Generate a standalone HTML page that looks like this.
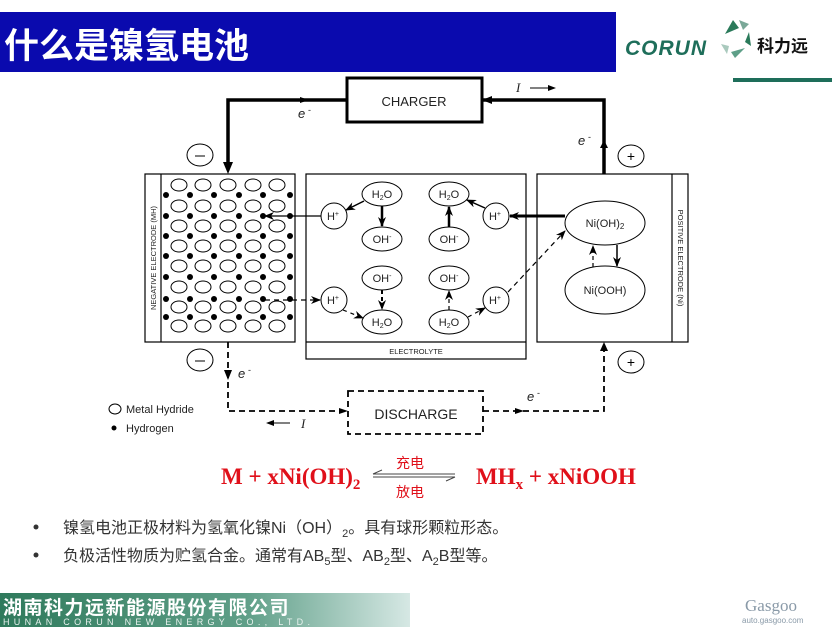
<!DOCTYPE html>
<html><head><meta charset="utf-8"><style>
html,body{margin:0;padding:0;background:#fff;}
body{width:832px;height:627px;overflow:hidden;position:relative;}
svg{position:absolute;left:0;top:0;}
</style></head><body>
<svg width="832" height="627" viewBox="0 0 832 627" xmlns="http://www.w3.org/2000/svg" font-family="Liberation Sans, Noto Sans CJK SC, sans-serif">
<defs>
<marker id="ah" markerWidth="10" markerHeight="8" refX="9" refY="4" orient="auto" markerUnits="userSpaceOnUse"><path d="M0,0 L10,4 L0,8 L3,4 Z" fill="#000"/></marker>
<linearGradient id="fg" x1="0" x2="1" y1="0" y2="0"><stop offset="0" stop-color="#2f7a5c"/><stop offset="0.6" stop-color="#5f9f88"/><stop offset="1" stop-color="#d6e8e4"/></linearGradient>
<g id="orow" fill="none" stroke="#000" stroke-width="1"><ellipse cx="179" cy="0" rx="8" ry="6"/><ellipse cx="203" cy="0" rx="8" ry="6"/><ellipse cx="228" cy="0" rx="8" ry="6"/><ellipse cx="253" cy="0" rx="8" ry="6"/><ellipse cx="277" cy="0" rx="8" ry="6"/></g>
<g id="drow" fill="#000"><circle cx="166" cy="0" r="3"/><circle cx="190" cy="0" r="3"/><circle cx="214" cy="0" r="3"/><circle cx="239" cy="0" r="3"/><circle cx="263" cy="0" r="3"/><circle cx="290" cy="0" r="3"/></g>
</defs>
<!-- header -->
<rect x="0" y="12" width="616" height="60" fill="#0a0aae"/>
<text x="4" y="58" fill="#fff" font-size="35" font-weight="bold" font-family="Liberation Sans, Noto Sans CJK SC, sans-serif">什么是镍氢电池</text>
<text x="625" y="55" fill="#1e6e5a" font-size="21" font-weight="bold" font-style="italic" letter-spacing="1">CORUN</text>
<g transform="translate(735,40)">
<polygon points="-10,-6 -2,-20 4,-12" fill="#2a7a5a"/>
<polygon points="4,-20 14,-16 8,-10" fill="#7aa898"/>
<polygon points="14,-8 16,6 10,2" fill="#2a7a5a"/>
<polygon points="10,8 0,18 -4,12" fill="#5e9f88"/>
<polygon points="-8,14 -14,4 -6,6" fill="#a9c9bd"/>
</g>
<text x="757" y="52" font-size="17" font-weight="bold" fill="#111">科力远</text>
<rect x="733" y="78" width="99" height="4" fill="#1e6e5a"/>

<!-- charger circuit -->
<rect x="347" y="78" width="135" height="44" fill="none" stroke="#000" stroke-width="3"/>
<text x="414" y="106" font-size="13" text-anchor="middle" fill="#222">CHARGER</text>
<polyline points="347,100 228,100 228,166" fill="none" stroke="#000" stroke-width="3.5"/>
<path d="M223,162 L228,174 L233,162 Z" fill="#000"/>
<polyline points="604,174 604,100 482,100" fill="none" stroke="#000" stroke-width="3.5"/>
<path d="M482,100 L492,96 L492,104 Z" fill="#000"/>
<path d="M309,100 L300,97 L300,103 Z" fill="#000"/>
<path d="M604,140 L600,148 L608,148 Z" fill="#000"/>
<text x="298" y="118" font-size="13" font-style="italic" fill="#222">e</text><text x="308" y="113" font-size="9" fill="#222">-</text>
<text x="578" y="145" font-size="13" font-style="italic" fill="#222">e</text><text x="588" y="140" font-size="9" fill="#222">-</text>
<text x="516" y="92" font-size="13" font-style="italic" font-family="Liberation Serif, serif" fill="#222">I</text>
<line x1="530" y1="88" x2="554" y2="88" stroke="#000" stroke-width="1"/><path d="M556,88 L548,85 L548,91 Z" fill="#000"/>
<ellipse cx="200" cy="155" rx="13" ry="11" fill="none" stroke="#000"/><line x1="195" y1="156" x2="205" y2="156" stroke="#000"/>
<ellipse cx="631" cy="156" rx="13" ry="11" fill="none" stroke="#000"/><text x="631" y="161" font-size="14" text-anchor="middle">+</text>

<!-- negative electrode -->
<rect x="145" y="174" width="150" height="168" fill="none" stroke="#000" stroke-width="1.2"/>
<line x1="161" y1="174" x2="161" y2="342" stroke="#000" stroke-width="1.2"/>
<text transform="translate(156,258) rotate(-90)" font-size="7.5" text-anchor="middle" fill="#222">NEGATIVE ELECTRODE (MH)</text>
<use href="#orow" y="185"/><use href="#orow" y="206"/><use href="#orow" y="226"/><use href="#orow" y="246"/><use href="#orow" y="266"/><use href="#orow" y="287"/><use href="#orow" y="307"/><use href="#orow" y="326"/>
<use href="#drow" y="195"/><use href="#drow" y="216"/><use href="#drow" y="236"/><use href="#drow" y="256"/><use href="#drow" y="277"/><use href="#drow" y="299"/><use href="#drow" y="317"/>

<!-- electrolyte -->
<rect x="306" y="174" width="220" height="185" fill="none" stroke="#000" stroke-width="1.2"/>
<line x1="306" y1="342" x2="526" y2="342" stroke="#000" stroke-width="1.2"/>
<text x="416" y="354" font-size="7.5" text-anchor="middle" fill="#222">ELECTROLYTE</text>
<g fill="#fff" stroke="#000" stroke-width="1">
<ellipse cx="382" cy="194" rx="20" ry="12"/><ellipse cx="382" cy="239" rx="20" ry="12"/>
<ellipse cx="449" cy="194" rx="20" ry="12"/><ellipse cx="449" cy="239" rx="20" ry="12"/>
<ellipse cx="382" cy="278" rx="20" ry="12"/><ellipse cx="382" cy="322" rx="20" ry="12"/>
<ellipse cx="449" cy="278" rx="20" ry="12"/><ellipse cx="449" cy="322" rx="20" ry="12"/>
<ellipse cx="334" cy="216" rx="13" ry="13"/><ellipse cx="496" cy="216" rx="13" ry="13"/>
<ellipse cx="334" cy="300" rx="13" ry="13"/><ellipse cx="496" cy="300" rx="13" ry="13"/>
</g>
<g font-size="11" text-anchor="middle" fill="#222">
<text x="382" y="198">H<tspan font-size="7" dy="2">2</tspan><tspan dy="-2">O</tspan></text>
<text x="382" y="243">OH<tspan font-size="7" dy="-4">-</tspan></text>
<text x="449" y="198">H<tspan font-size="7" dy="2">2</tspan><tspan dy="-2">O</tspan></text>
<text x="449" y="243">OH<tspan font-size="7" dy="-4">-</tspan></text>
<text x="382" y="282">OH<tspan font-size="7" dy="-4">-</tspan></text>
<text x="382" y="326">H<tspan font-size="7" dy="2">2</tspan><tspan dy="-2">O</tspan></text>
<text x="449" y="282">OH<tspan font-size="7" dy="-4">-</tspan></text>
<text x="449" y="326">H<tspan font-size="7" dy="2">2</tspan><tspan dy="-2">O</tspan></text>
<text x="333" y="220">H<tspan font-size="7" dy="-4">+</tspan></text>
<text x="495" y="220">H<tspan font-size="7" dy="-4">+</tspan></text>
<text x="333" y="304">H<tspan font-size="7" dy="-4">+</tspan></text>
<text x="495" y="304">H<tspan font-size="7" dy="-4">+</tspan></text>
</g>
<g stroke="#000" fill="none" marker-end="url(#ah)">
<line x1="382" y1="206" x2="382" y2="226" stroke-width="2.5"/>
<line x1="449" y1="227" x2="449" y2="207" stroke-width="2.5"/>
<line x1="364" y1="201" x2="346" y2="210" stroke-width="1.5"/>
<line x1="485" y1="208" x2="467" y2="200" stroke-width="1.5"/>
<line x1="321" y1="216" x2="265" y2="216" stroke-width="1.2"/>
<line x1="565" y1="216" x2="510" y2="216" stroke-width="3"/>
<line x1="265" y1="300" x2="320" y2="300" stroke-width="1.2" stroke-dasharray="5,4"/>
<line x1="343" y1="310" x2="363" y2="318" stroke-width="1.2" stroke-dasharray="4,4"/>
<line x1="382" y1="290" x2="382" y2="309" stroke-width="2" stroke-dasharray="4,3"/>
<line x1="449" y1="310" x2="449" y2="291" stroke-width="1.2" stroke-dasharray="4,3"/>
<line x1="468" y1="317" x2="485" y2="308" stroke-width="1.2" stroke-dasharray="4,4"/>
<line x1="508" y1="292" x2="565" y2="231" stroke-width="1.2" stroke-dasharray="5,4"/>
</g>

<!-- positive electrode -->
<rect x="537" y="174" width="151" height="168" fill="none" stroke="#000" stroke-width="1.2"/>
<line x1="672" y1="174" x2="672" y2="342" stroke="#000" stroke-width="1.2"/>
<text transform="translate(678,258) rotate(90)" font-size="7.5" text-anchor="middle" fill="#222">POSITIVE ELECTRODE (Ni)</text>
<ellipse cx="605" cy="223" rx="40" ry="22" fill="#fff" stroke="#000"/>
<ellipse cx="605" cy="290" rx="40" ry="24" fill="#fff" stroke="#000"/>
<text x="605" y="227" font-size="11" text-anchor="middle" fill="#222">Ni(OH)<tspan font-size="8" dy="2">2</tspan></text>
<text x="605" y="294" font-size="11" text-anchor="middle" fill="#222">Ni(OOH)</text>
<line x1="593" y1="267" x2="593" y2="246" stroke="#000" stroke-width="1.2" stroke-dasharray="4,3" marker-end="url(#ah)"/>
<line x1="617" y1="245" x2="617" y2="266" stroke="#000" stroke-width="1.5" marker-end="url(#ah)"/>

<!-- discharge circuit -->
<ellipse cx="200" cy="360" rx="13" ry="11" fill="none" stroke="#000"/><line x1="195" y1="361" x2="205" y2="361" stroke="#000"/>
<ellipse cx="631" cy="362" rx="13" ry="11" fill="none" stroke="#000"/><text x="631" y="367" font-size="14" text-anchor="middle">+</text>
<rect x="348" y="391" width="135" height="43" fill="none" stroke="#000" stroke-width="1.8" stroke-dasharray="6,4"/>
<text x="416" y="419" font-size="14" text-anchor="middle" fill="#222">DISCHARGE</text>
<polyline points="228,342 228,411 348,411" fill="none" stroke="#000" stroke-width="1.8" stroke-dasharray="6,4"/>
<polyline points="483,411 604,411 604,345" fill="none" stroke="#000" stroke-width="1.8" stroke-dasharray="6,4"/>
<path d="M224,370 L228,380 L232,370 Z" fill="#000"/>
<path d="M348,411 L339,408 L339,414 Z" fill="#000"/>
<path d="M524,411 L515,408 L515,414 Z" fill="#000"/>
<path d="M604,342 L600,351 L608,351 Z" fill="#000"/>
<text x="238" y="378" font-size="13" font-style="italic" fill="#222">e</text><text x="248" y="373" font-size="9" fill="#222">-</text>
<text x="527" y="401" font-size="13" font-style="italic" fill="#222">e</text><text x="537" y="396" font-size="9" fill="#222">-</text>
<line x1="268" y1="423" x2="290" y2="423" stroke="#000"/><path d="M266,423 L274,420 L274,426 Z" fill="#000"/>
<text x="301" y="428" font-size="13" font-style="italic" font-family="Liberation Serif, serif" fill="#222">I</text>
<ellipse cx="115" cy="409" rx="6" ry="5" fill="none" stroke="#000"/>
<text x="126" y="413" font-size="11" fill="#222">Metal Hydride</text>
<circle cx="114" cy="428" r="2.5" fill="#000"/>
<text x="126" y="432" font-size="11" fill="#222">Hydrogen</text>

<!-- equation -->
<g fill="#e0101a" font-family="Liberation Serif, serif" font-weight="bold" font-size="23">
<text x="221" y="484">M + xNi(OH)<tspan font-size="15" dy="5">2</tspan></text>
<text x="476" y="484">MH<tspan font-size="15" dy="5">x</tspan><tspan dy="-5"> + xNiOOH</tspan></text>
</g>
<text x="410" y="468" font-size="14" fill="#e0101a" text-anchor="middle" font-family="Noto Sans CJK SC, sans-serif">充电</text>
<text x="410" y="497" font-size="14" fill="#e0101a" text-anchor="middle" font-family="Noto Sans CJK SC, sans-serif">放电</text>
<line x1="373" y1="474" x2="455" y2="474" stroke="#444" stroke-width="1"/>
<line x1="373" y1="477" x2="455" y2="477" stroke="#444" stroke-width="1"/>
<line x1="373" y1="474" x2="382" y2="470" stroke="#444"/>
<line x1="455" y1="477" x2="446" y2="481" stroke="#444"/>

<!-- bullets -->
<g font-size="16" fill="#333" font-family="Liberation Sans, Noto Sans CJK SC, sans-serif">
<circle cx="36" cy="527" r="2.5" fill="#333"/>
<text x="63" y="533">镍氢电池正极材料为氢氧化镍Ni（OH）<tspan font-size="11" dy="4">2</tspan><tspan dy="-4">。具有球形颗粒形态。</tspan></text>
<circle cx="36" cy="555" r="2.5" fill="#333"/>
<text x="63" y="561">负极活性物质为贮氢合金。通常有AB<tspan font-size="11" dy="4">5</tspan><tspan dy="-4">型、AB</tspan><tspan font-size="11" dy="4">2</tspan><tspan dy="-4">型、A</tspan><tspan font-size="11" dy="4">2</tspan><tspan dy="-4">B型等。</tspan></text>
</g>

<!-- footer -->
<rect x="0" y="593" width="410" height="34" fill="url(#fg)"/>
<text x="3" y="614" font-size="19" font-weight="bold" fill="#fff" letter-spacing="1.5" font-family="Noto Sans CJK SC, sans-serif">湖南科力远新能源股份有限公司</text>
<text x="3" y="625" font-size="9" fill="#e8f2ee" letter-spacing="4.3">HUNAN CORUN NEW ENERGY CO., LTD.</text>
<text x="745" y="611" font-size="17" fill="#8a9aa8" font-family="Liberation Serif, serif">Gasgoo</text>
<text x="742" y="623" font-size="8" fill="#8a9aa8">auto.gasgoo.com</text>
</svg>
</body></html>
